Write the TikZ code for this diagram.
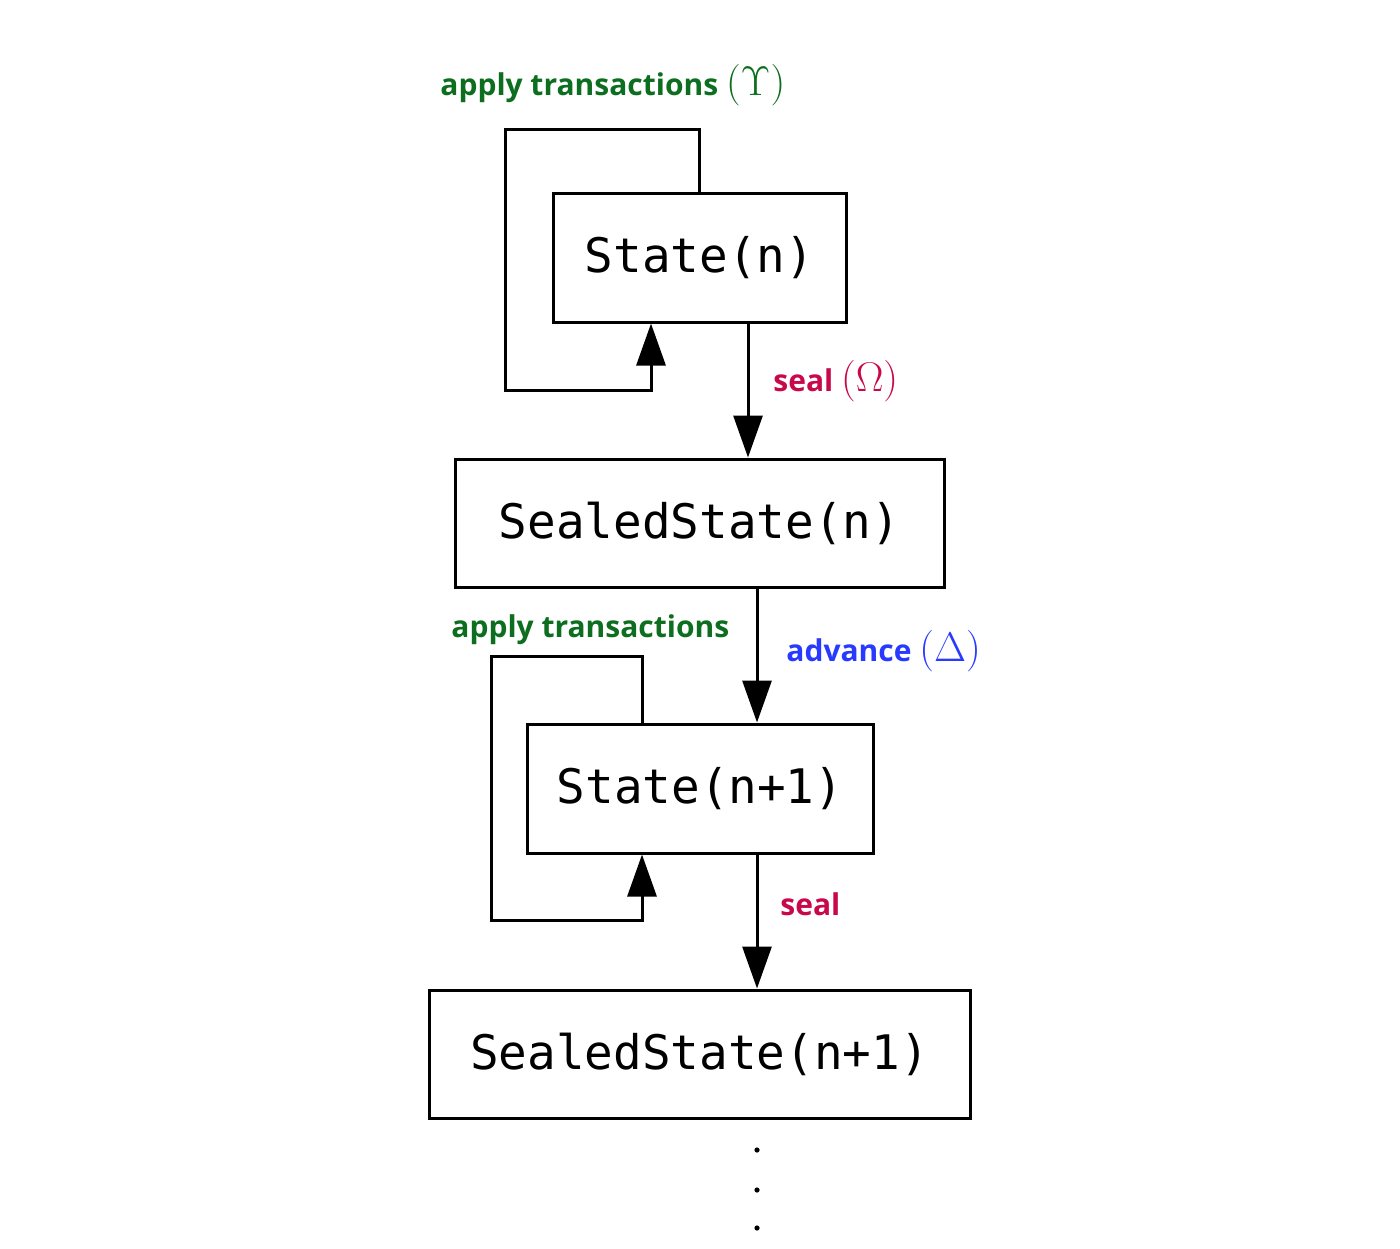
\documentclass[tikz,border=0pt]{standalone}
\usepackage{fontspec}
\setmonofont{DejaVu Sans Mono}
\newfontfamily\labfont{Open Sans}
\usetikzlibrary{arrows.meta}
\definecolor{lgreen}{RGB}{12,110,30}
\definecolor{lred}{RGB}{200,8,75}
\definecolor{lblue}{RGB}{40,58,255}
\tikzset{
  statebox/.style={draw, line width=1.5pt, inner sep=0pt, font=\fontsize{23.8}{28}\ttfamily},
  arr/.style={line width=1.5pt, -{Triangle[length=21pt,width=14.5pt]}},
  loopline/.style={line width=1.5pt, -{Triangle[length=21pt,width=14.5pt]}},
  lab/.style={anchor=base west, inner sep=0pt, font=\fontsize{15}{18}\labfont\bfseries},
}
\newcommand{\mathlab}[1]{\fontsize{21}{25}\selectfont$(#1)$}
\begin{document}
\begin{tikzpicture}[x=0.5pt,y=-0.5pt]
\useasboundingbox (0,0) rectangle (1400,1248);
% boxes
\node[statebox, minimum width=146.5pt, minimum height=64.5pt] (s1) at (699.5,257.5) {State(n)};
\node[statebox, minimum width=244.5pt, minimum height=64pt] (ss1) at (699.5,523) {SealedState(n)};
\node[statebox, minimum width=173pt, minimum height=64.5pt] (s2) at (700,788.5) {State(n+1)};
\node[statebox, minimum width=270.5pt, minimum height=64pt] (ss2) at (699.5,1054) {SealedState(n+1)};
% x positions
\coordinate (xa1) at (699,0);
\coordinate (xb1) at (651,0);
\coordinate (xs1) at (748,0);
\coordinate (xad) at (757,0);
\coordinate (xa2) at (642,0);
\coordinate (l1t) at (505,129);
\coordinate (l1b) at (505,390);
\coordinate (l2t) at (491,656);
\coordinate (l2b) at (491,920);
% loops
\draw[loopline] (s1.north -| xa1) |- (l1t) -- (l1b) -| (s1.south -| xb1);
\draw[loopline] (s2.north -| xa2) |- (l2t) -- (l2b) -| (s2.south -| xa2);
% main arrows
\draw[arr] (s1.south -| xs1) -- (ss1.north -| xs1);
\draw[arr] (ss1.south -| xad) -- (s2.north -| xad);
\draw[arr] (s2.south -| xad) -- (ss2.north -| xad);
% labels
\node[lab, text=lgreen] (lab1) at (440,95) {apply transactions \mathlab{\Upsilon}};
\node[lab, text=lred] (lab2) at (773,391) {seal \mathlab{\Omega}};
\node[lab, text=lgreen] (lab3) at (451,637) {apply transactions};
\node[lab, text=lblue] (lab4) at (786,661) {advance \mathlab{\Delta}};
\node[lab, text=lred] (lab5) at (780,915) {seal};
% dots
\fill (757,1150) circle (1.3pt);
\fill (757,1190) circle (1.3pt);
\fill (757,1228) circle (1.3pt);
\end{tikzpicture}
\end{document}
